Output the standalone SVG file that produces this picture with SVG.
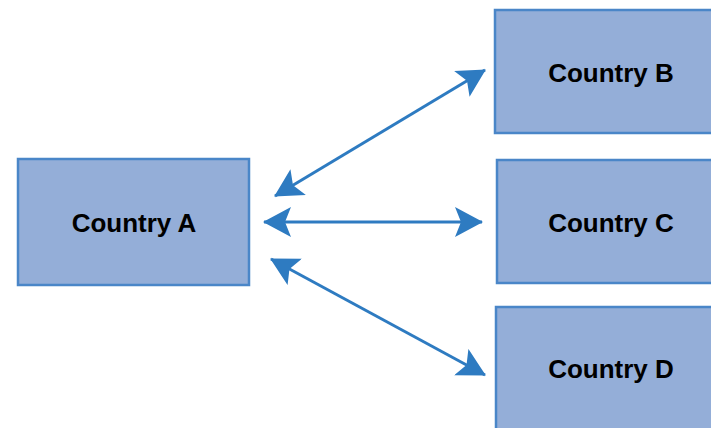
<svg xmlns="http://www.w3.org/2000/svg" width="711" height="428" viewBox="0 0 711 428">
<style>
.box{fill:#94aed8;stroke:#4a86c8;stroke-width:2.5}
.lbl{font-family:"Liberation Sans",Arial,sans-serif;font-weight:bold;font-size:26px;fill:#000;text-anchor:middle}
.conn{stroke:#2e7bc1;stroke-width:3;fill:none;marker-start:url(#ah);marker-end:url(#ah)}
</style>
<defs>
<marker id="ah" viewBox="0 0 28 30" refX="27" refY="15" markerWidth="28" markerHeight="30" markerUnits="userSpaceOnUse" orient="auto-start-reverse">
<path d="M0,0 L28,15 L0,30 L6,15 Z" fill="#2e7bc1"/>
</marker>
</defs>
<rect width="711" height="428" fill="#fff"/>
<g id="connectors">
<line class="conn" x1="275" y1="196" x2="485" y2="70"/>
<line class="conn" x1="264" y1="222" x2="482" y2="222"/>
<line class="conn" x1="271" y1="259" x2="485" y2="375"/>
</g>
<g id="countryA">
<rect class="box" x="18" y="159" width="231" height="126"/>
<text class="lbl" x="134" y="232">Country A</text>
</g>
<g id="countryB">
<rect class="box" x="495" y="10" width="232" height="123"/>
<text class="lbl" x="611" y="82">Country B</text>
</g>
<g id="countryC">
<rect class="box" x="497" y="160" width="232" height="123"/>
<text class="lbl" x="611" y="232">Country C</text>
</g>
<g id="countryD">
<rect class="box" x="496" y="307" width="232" height="140"/>
<text class="lbl" x="611" y="378">Country D</text>
</g>
</svg>
